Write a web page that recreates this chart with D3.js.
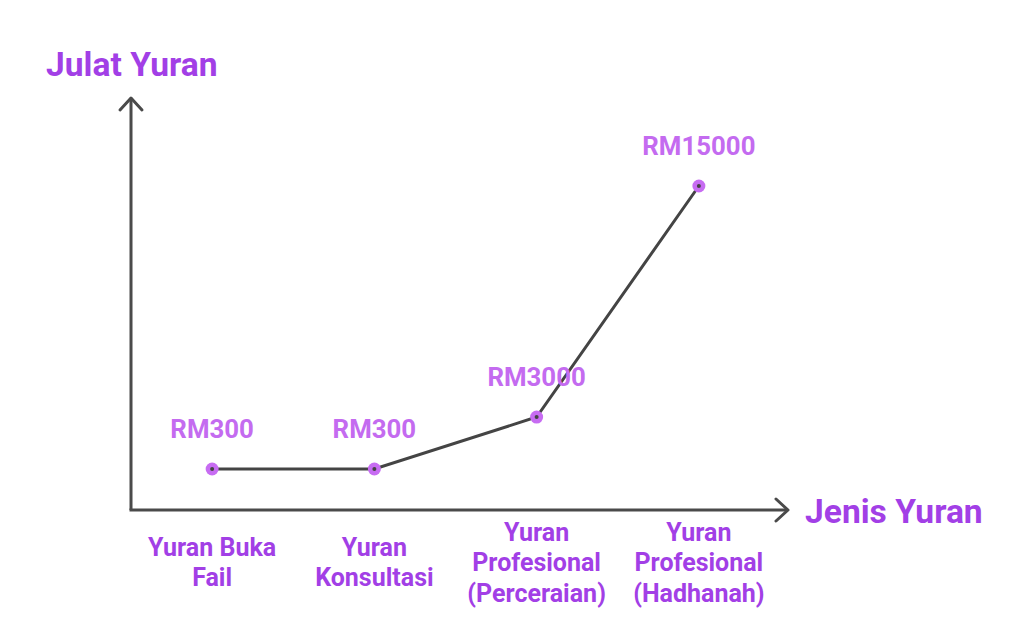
<!DOCTYPE html>
<html><head><meta charset="utf-8">
<script src="https://cdn.jsdelivr.net/npm/d3@7"></script>
<style>html,body{margin:0;padding:0;background:#fff}svg{display:block}</style>
</head><body>
<svg id="c" width="1024" height="624"></svg>
<script>
const categories = [["Yuran Buka","Fail"],["Yuran","Konsultasi"],["Yuran","Profesional","(Perceraian)"],["Yuran","Profesional","(Hadhanah)"]];
const values = [300, 300, 3000, 15000];
const valueLabels = ["RM300","RM300","RM3000","RM15000"];
const yTitle = "Julat Yuran";
const xTitle = "Jenis Yuran";

const svg = d3.select("#c");
const font = "Roboto, 'Noto Sans', sans-serif";
const x0 = 131, y0 = 510;
const x = d3.scaleBand().domain(categories.map((d,i)=>i)).range([131,780]).padding(0);
const y = d3.scaleLinear().domain([0,15000]).range([474.8,186]);
const cx = i => x(i) + x.bandwidth()/2;
const axisColor = "#4a4a4a";

// axes
svg.append("line").attr("x1",x0).attr("y1",y0).attr("x2",x0).attr("y2",98)
  .attr("stroke",axisColor).attr("stroke-width",3);
svg.append("line").attr("x1",x0-1.5).attr("y1",y0).attr("x2",788).attr("y2",y0)
  .attr("stroke",axisColor).attr("stroke-width",3);
svg.append("path").attr("d",`M${x0-11},${110} L${x0},${98} L${x0+11},${110}`)
  .attr("fill","none").attr("stroke",axisColor).attr("stroke-width",3).attr("stroke-linecap","round").attr("stroke-linejoin","round");
svg.append("path").attr("d",`M${776},${y0-11} L${788},${y0} L${776},${y0+11}`)
  .attr("fill","none").attr("stroke",axisColor).attr("stroke-width",3).attr("stroke-linecap","round").attr("stroke-linejoin","round");

// titles
svg.append("text").attr("x",46).attr("y",76).text(yTitle)
  .attr("font-family",font).attr("font-weight",700).attr("font-size",33.6).attr("fill","#a23fe6");
svg.append("text").attr("x",805).attr("y",523).text(xTitle)
  .attr("font-family",font).attr("font-weight",700).attr("font-size",33.6).attr("fill","#a23fe6");

// line
const line = d3.line().x((d,i)=>cx(i)).y(d=>y(d));
svg.append("path").datum(values).attr("d",line).attr("fill","none")
  .attr("stroke","#444").attr("stroke-width",3);

// points
const pts = svg.selectAll("g.pt").data(values).join("g").attr("class","pt");
pts.append("circle").attr("cx",(d,i)=>cx(i)).attr("cy",d=>y(d)).attr("r",6.5).attr("fill","#c76cf2");
pts.append("circle").attr("cx",(d,i)=>cx(i)).attr("cy",d=>y(d)).attr("r",2).attr("fill","#444");

// value labels
svg.selectAll("text.vl").data(values).join("text").attr("class","vl")
  .attr("x",(d,i)=>cx(i)).attr("y",d=>y(d)-31)
  .attr("text-anchor","middle").attr("font-family",font).attr("font-weight",700)
  .attr("font-size",25.8).attr("fill","#c46bf0").text((d,i)=>valueLabels[i]);

// category labels
categories.forEach((lines,i)=>{
  const lh = 30.5;
  const start = 562 - (lines.length-1)*lh/2;
  const t = svg.append("text").attr("text-anchor","middle").attr("font-family",font)
    .attr("font-weight",700).attr("font-size",25).attr("fill","#a23fe6");
  lines.forEach((l,j)=>{
    t.append("tspan").attr("x",cx(i)).attr("y",start + j*lh + 9).text(l);
  });
});
</script>
</body></html>
